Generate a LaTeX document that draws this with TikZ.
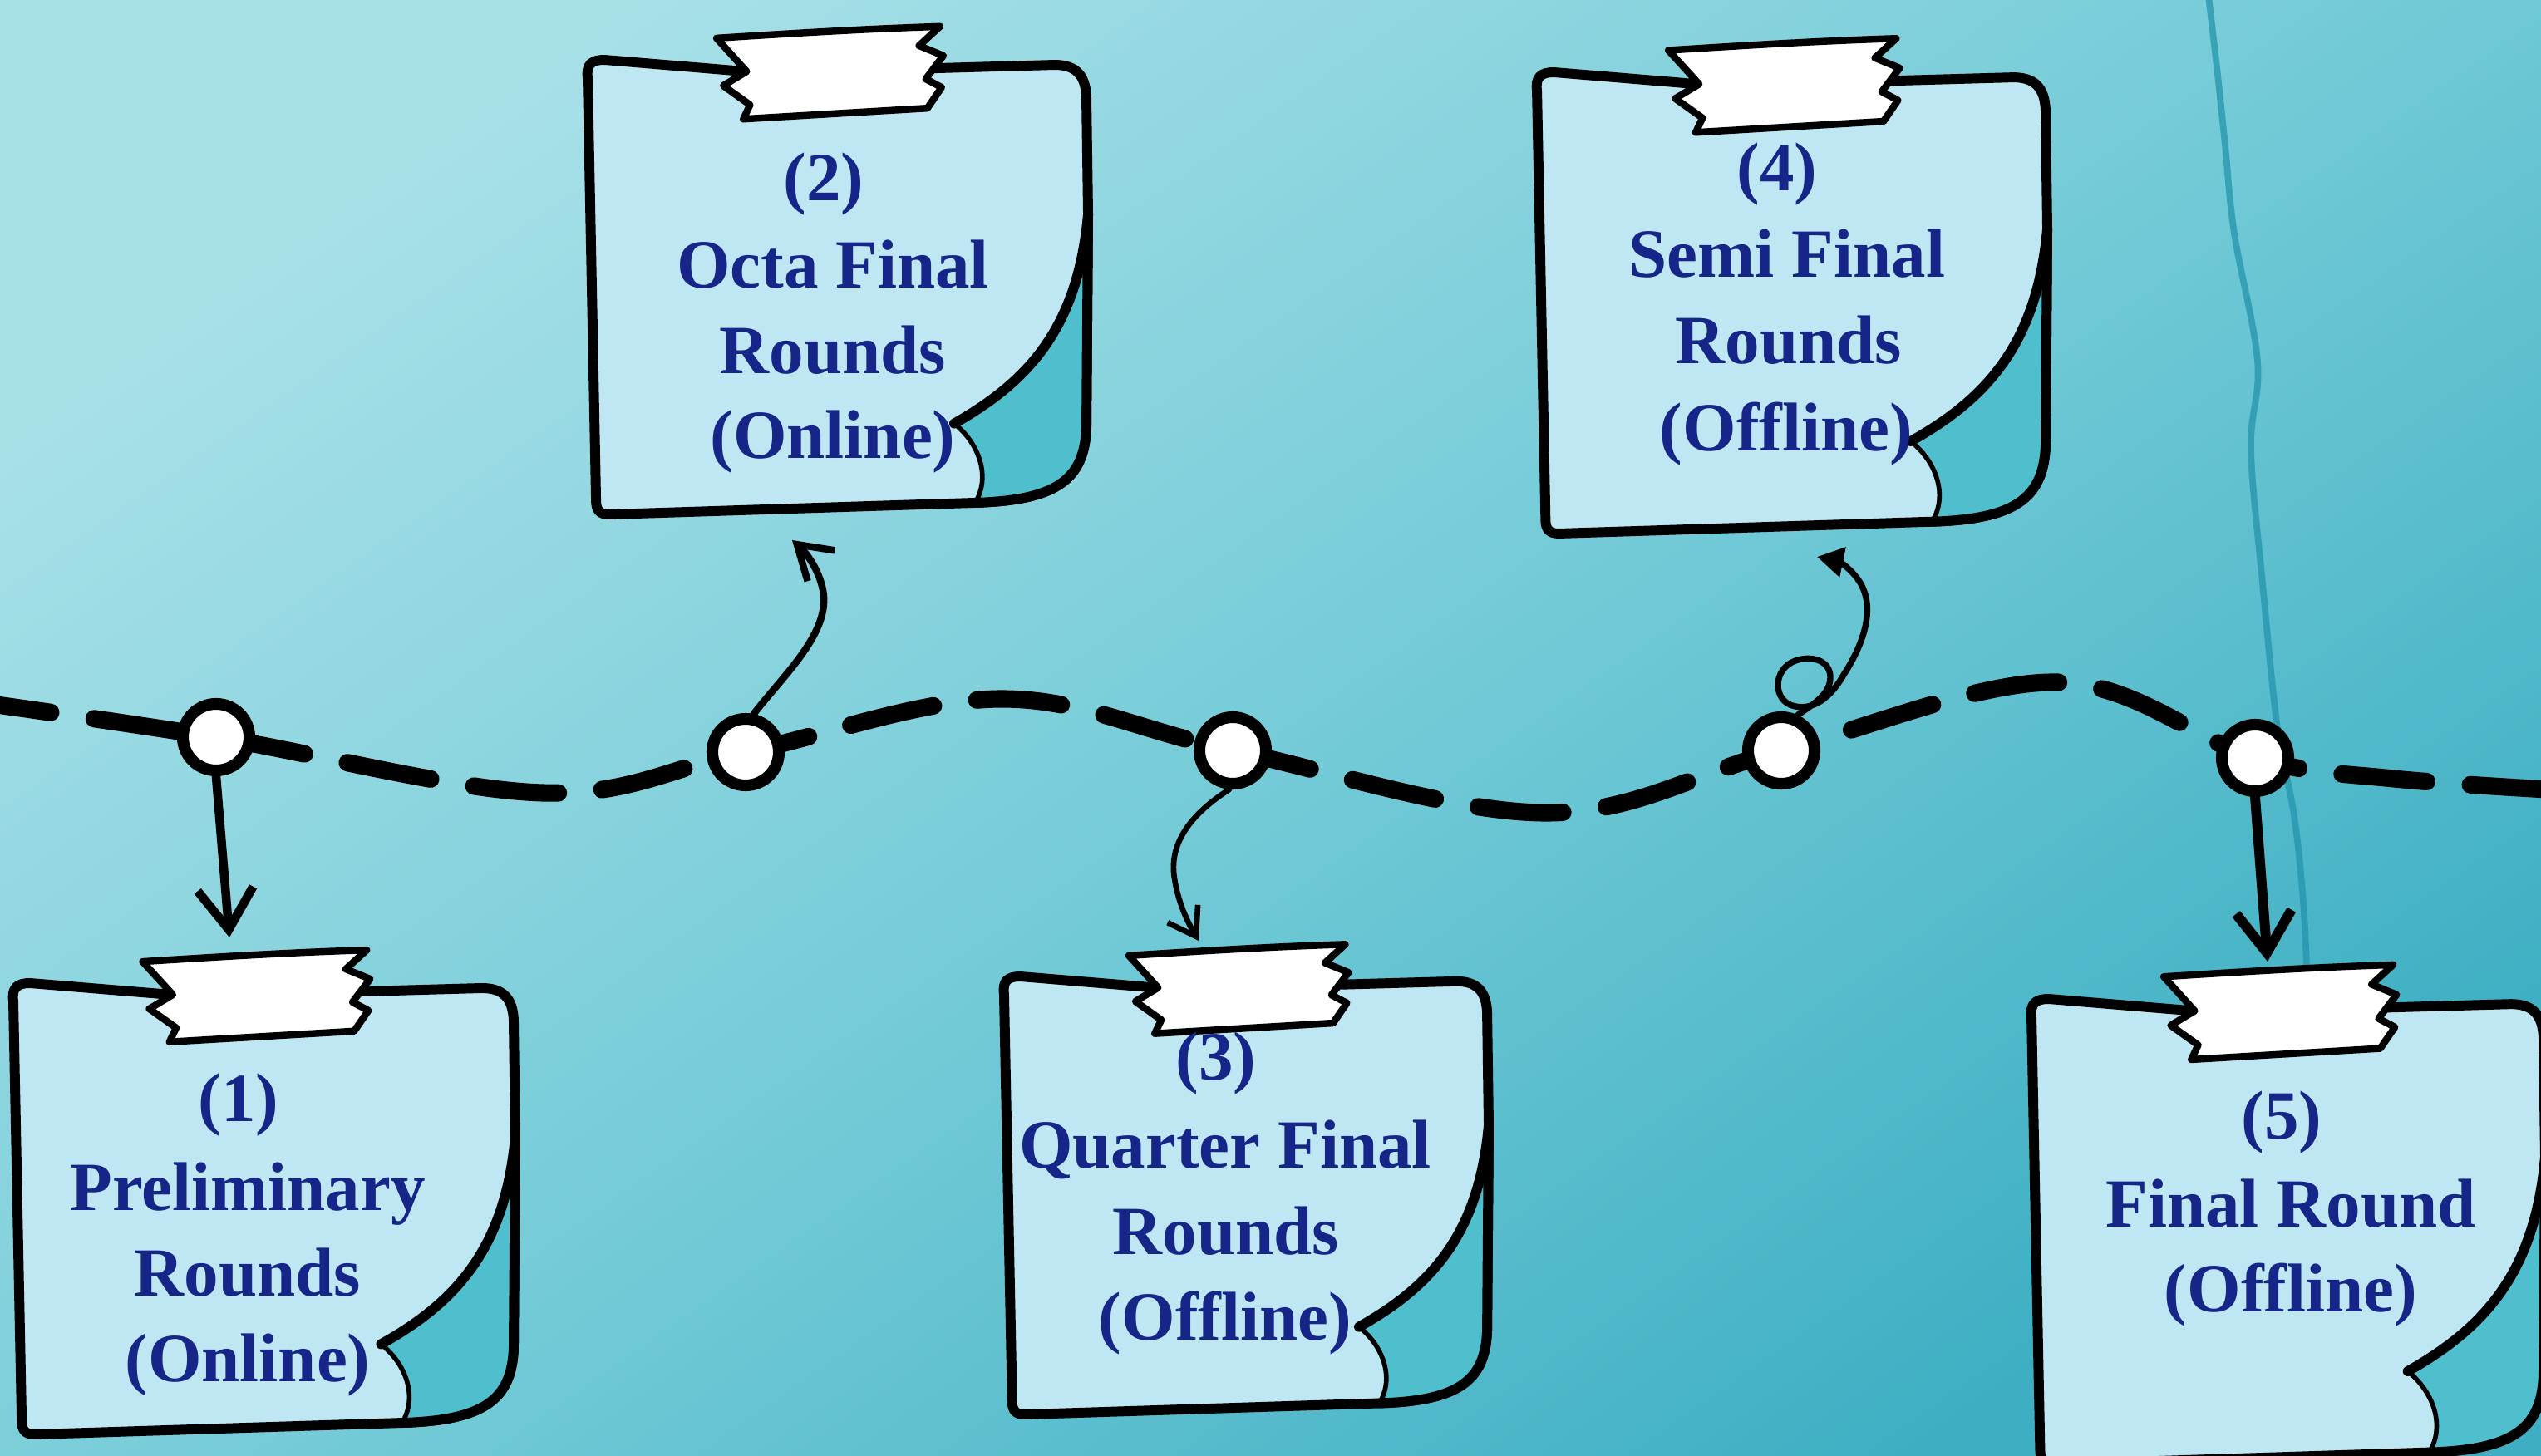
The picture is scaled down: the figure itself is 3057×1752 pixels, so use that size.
\documentclass[tikz,border=0pt]{standalone}
\usepackage{fontspec}
\setmainfont{Liberation Serif}
\usetikzlibrary{arrows.meta}
\definecolor{bgA}{RGB}{168,224,232}
\definecolor{bgM}{RGB}{118,204,216}
\definecolor{bgB}{RGB}{62,175,195}
\definecolor{paper}{RGB}{190,230,243}
\definecolor{fold}{RGB}{80,191,205}
\definecolor{txtblue}{RGB}{21,37,136}
\definecolor{crackc}{RGB}{36,148,172}

\newcommand{\drawNote}[4]{%
 \begin{scope}[shift={(#1,#2)}, xscale=#3, yscale=#4]
  \path[fill=paper, draw=black, line width=3.4pt, line join=round]
   (2,22) .. controls (0,6) and (6,0) .. (22,0) -- (190,14) -- (420,10) -- (560,6)
   .. controls (585,6) and (597,18) .. (598,45) -- (600,185) -- (598,440)
   .. controls (596,505) and (560,528) .. (465,531) -- (28,545)
   .. controls (16,545) and (12,540) .. (12,528) -- cycle;
  \fill[fold] (600,185) .. controls (588,320) and (530,385) .. (440,436)
   .. controls (470,460) and (484,500) .. (465,531)
   .. controls (560,528) and (596,505) .. (598,440) -- cycle;
  \draw[line width=3.4pt, line join=round, line cap=round] (600,185) -- (598,440)
   .. controls (596,505) and (560,528) .. (465,531);
  \draw[line width=3.4pt, line cap=round] (600,185) .. controls (588,320) and (530,385) .. (440,436);
  \draw[line width=1.6pt] (440,436) .. controls (470,460) and (484,500) .. (465,531);
  \path[fill=white, draw=black, line width=2.4pt, line join=round]
   (156,-26) .. controls (250,-32) and (330,-37) .. (423,-40) -- (398,-17) -- (427,-5)
   -- (406,23) -- (425,33) -- (408,58) -- (188,71) -- (196,54) -- (164,31) -- (192,14) -- cycle;
 \end{scope}}

\tikzset{
 lbl/.style={font=\fontsize{23.6}{28}\selectfont\bfseries, text=txtblue, anchor=base, inner sep=0pt},
 dot/.style={circle, draw=black, fill=white, line width=4pt, minimum size=0.8cm, inner sep=0pt},
 track/.style={line width=6pt, dash pattern=on 29pt off 15pt, line cap=round},
 conn/.style={line cap=round, line join=round},
}

\begin{document}
\begin{tikzpicture}[x=0.01cm, y=-0.01cm]
\useasboundingbox (0,0) rectangle (3057,1752);
\clip (0,0) rectangle (3057,1752);
% background
\shade[shading=axis, top color=bgA, bottom color=bgB, middle color=bgM, shading angle=35] (-10,-10) rectangle (3070,1765);
\draw[crackc, line width=2.2pt, opacity=0.75] plot[smooth, tension=0.6] coordinates
 {(2657,-5) (2668,90) (2677,175) (2688,281) (2716,435) (2708,540) (2722,702) (2740,877) (2760,982) (2772,1100) (2778,1250)};

% track points
\coordinate (p1) at (260,887);
\coordinate (p2) at (897,905);
\coordinate (p3) at (1483,903);
\coordinate (p4) at (2143,903);
\coordinate (p5) at (2713,912);
\draw[track] plot[smooth, tension=0.6] coordinates
 {(-40,843) (p1) (653,954) (p2) (1204,841) (p3) (1860,978) (p4) (2475,821) (p5) (2880,937) (3100,952)};
\node[dot] (c1) at (p1) {};
\node[dot] (c2) at (p2) {};
\node[dot] (c3) at (p3) {};
\node[dot] (c4) at (p4) {};
\node[dot] (c5) at (p5) {};

% notes
\drawNote{14}{1183}{1.01}{0.9963}
\drawNote{705}{72}{1.0067}{1.0037}
\drawNote{1206}{1175}{0.975}{0.967}
\drawNote{1847}{87}{1.0267}{1.0183}
\drawNote{2442}{1202}{1.0333}{1.0275}

% arrow targets
\coordinate (t1) at (276,1128);
\coordinate (t2) at (953,650);
\coordinate (t3) at (1442,1132);
\coordinate (t4) at (2186,670);
\coordinate (t5) at (2728,1157);

\draw[conn, line width=3pt, -{Straight Barb[length=14pt,width=19pt]}] (c1.south) -- (t1);
\draw[conn, line width=2.4pt, -{Straight Barb[length=11pt,width=14pt]}] (c2.78)
 .. controls (945,810) and (1000,760) .. (990,710) .. controls (985,685) and (970,665) .. (t2);
\draw[conn, line width=1.9pt, -{Straight Barb[length=9pt,width=12pt]}] (c3.-95)
 .. controls (1440,975) and (1405,1010) .. (1413,1057) .. controls (1418,1090) and (1432,1115) .. (t3);
\draw[conn, line width=2.1pt, -{Triangle[length=9pt,width=10pt]}] (c4.65)
 .. controls (2180,848) and (2202,836) .. (2202,815) .. controls (2202,795) and (2180,788) .. (2160,795)
 .. controls (2132,805) and (2132,845) .. (2160,850) .. controls (2185,855) and (2205,835) .. (2218,812)
 .. controls (2242,775) and (2255,735) .. (2240,705) .. controls (2230,685) and (2210,675) .. (t4);
\draw[conn, line width=3.4pt, -{Straight Barb[length=14pt,width=19pt]}] (c5.south) -- (t5);

% texts
\node[lbl] (n1a) at (287,1349) {(1)};
\node[lbl] (n1b) at (298,1456) {Preliminary};
\node[lbl] (n1c) at (298,1559) {Rounds};
\node[lbl] (n1d) at (298,1662) {(Online)};

\node[lbl] (n2a) at (991,242) {(2)};
\node[lbl] (n2b) at (1002,347) {Octa Final};
\node[lbl] (n2c) at (1002,450) {Rounds};
\node[lbl] (n2d) at (1002,551) {(Online)};

\node[lbl] (n3a) at (1463,1299) {(3)};
\node[lbl] (n3b) at (1474,1405) {Quarter Final};
\node[lbl] (n3c) at (1475,1509) {Rounds};
\node[lbl] (n3d) at (1474,1612) {(Offline)};

\node[lbl] (n4a) at (2138,230) {(4)};
\node[lbl] (n4b) at (2150,334) {Semi Final};
\node[lbl] (n4c) at (2152,438) {Rounds};
\node[lbl] (n4d) at (2149,542) {(Offline)};

\node[lbl] (n5a) at (2745,1370) {(5)};
\node[lbl] (n5b) at (2756,1476) {Final Round};
\node[lbl] (n5c) at (2756,1578) {(Offline)};
\end{tikzpicture}
\end{document}
